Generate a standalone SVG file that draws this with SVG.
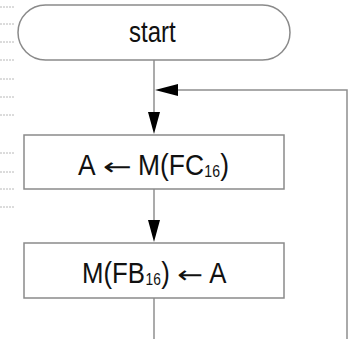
<svg xmlns="http://www.w3.org/2000/svg" width="354" height="339" viewBox="0 0 354 339">
  <style>
    .shape { fill: #ffffff; stroke: #8a8a8a; stroke-width: 1.5; }
    .label { font-family: "Liberation Sans", Arial, sans-serif; font-size: 30px; fill: #111111; }
    .sub { font-size: 16px; }
    .arrow { font-family: "DejaVu Sans", sans-serif; font-size: 24px; }
    .wire { fill: none; stroke: #8f8f8f; stroke-width: 1.5; }
    .head { fill: #000000; }
    .margin { stroke: #b8b8b8; stroke-width: 1; stroke-dasharray: 2 1; }
  </style>

  <!-- faint margin ticks along the left edge -->
  <g id="margin-ticks">
    <line class="margin" x1="0" y1="7" x2="14" y2="7"/>
    <line class="margin" x1="0" y1="24" x2="14" y2="24"/>
    <line class="margin" x1="0" y1="42" x2="14" y2="42"/>
    <line class="margin" x1="0" y1="60" x2="14" y2="60"/>
    <line class="margin" x1="0" y1="79" x2="14" y2="79"/>
    <line class="margin" x1="0" y1="97" x2="14" y2="97"/>
    <line class="margin" x1="0" y1="115" x2="14" y2="115"/>
    <line class="margin" x1="0" y1="153" x2="14" y2="153"/>
    <line class="margin" x1="0" y1="172" x2="14" y2="172"/>
    <line class="margin" x1="0" y1="189" x2="14" y2="189"/>
    <line class="margin" x1="0" y1="207" x2="14" y2="207"/>
  </g>

  <!-- connectors -->
  <g id="connectors">
    <line class="wire" x1="154" y1="60" x2="154" y2="114"/>
    <polyline class="wire" points="176,90 347,90 347,339"/>
    <polygon class="head" points="155,90 178,84 178,96"/>
    <polygon class="head" points="148,112 160,112 154,134"/>
    <line class="wire" x1="154" y1="189" x2="154" y2="221"/>
    <polygon class="head" points="148,220 160,220 154,242"/>
    <line class="wire" x1="154" y1="298" x2="154" y2="339"/>
  </g>

  <!-- labels use a horizontally condensed face: x values are in the scaled frame -->
  <g id="start">
    <rect class="shape" x="18" y="5" width="272" height="55" rx="27.5" ry="27.5"/>
    <text class="label" transform="scale(0.8,1)" x="161.25" y="42">start</text>
  </g>

  <g id="load-a">
    <rect class="shape" x="24" y="135" width="260" height="54"/>
    <text class="label" transform="scale(0.88,1)" y="175"><tspan x="88.64">A </tspan><tspan class="arrow" x="117.05" textLength="32.95" lengthAdjust="spacingAndGlyphs">←</tspan><tspan x="148.5"> M(FC</tspan><tspan class="sub" x="232.2" dy="2">16</tspan><tspan x="250.4" dy="-2">)</tspan></text>
  </g>

  <g id="store-a">
    <rect class="shape" x="24" y="243" width="260" height="55"/>
    <text class="label" transform="scale(0.86,1)" y="283"><tspan x="95.35">M(FB</tspan><tspan class="sub" x="169.2" dy="2">16</tspan><tspan x="187.4" dy="-2">) </tspan><tspan class="arrow" x="206" textLength="30.2" lengthAdjust="spacingAndGlyphs">←</tspan><tspan x="236.5"> A</tspan></text>
  </g>
</svg>
